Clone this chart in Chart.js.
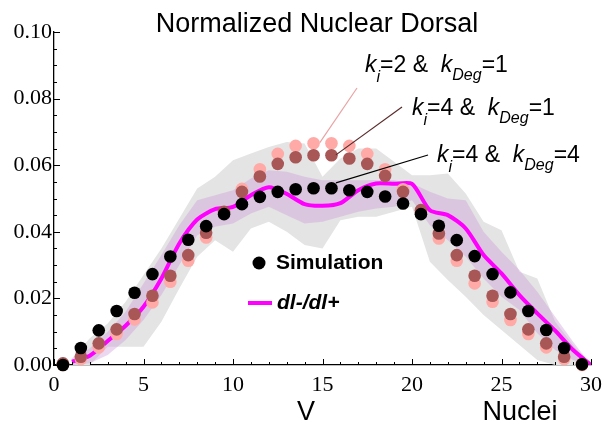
<!DOCTYPE html>
<html>
<head>
<meta charset="utf-8">
<script src="https://cdn.jsdelivr.net/npm/chart.js@4.4.1/dist/chart.umd.min.js"></script>
<style>
  html, body { margin: 0; padding: 0; background: #fff; }
  #wrap { width: 609px; height: 425px; }
</style>
</head>
<body>
<div id="wrap"><canvas id="chart" width="609" height="425"></canvas></div>
<script>
// posições dos núcleos (pontos simulados) e da curva experimental
const nucleusPos = [0.5, 1.5, 2.5, 3.5, 4.5, 5.5, 6.5, 7.5, 8.5, 9.5, 10.5, 11.5, 12.5, 13.5, 14.5,
                    15.5, 16.5, 17.5, 18.5, 19.5, 20.5, 21.5, 22.5, 23.5, 24.5, 25.5, 26.5, 27.5, 28.5, 29.5];
const curvePos = [1, 2, 3, 4, 5, 6, 7, 8, 9, 10, 11, 12, 13, 14, 15,
                  16, 17, 18, 19, 20, 21, 22, 23, 24, 25, 26, 27, 28, 29, 30];

// ki=4 & kDeg=4 (Simulation)
const simKi4Kdeg4 = [0.0000, 0.0051, 0.0104, 0.0162, 0.0217, 0.0273, 0.0326, 0.0376, 0.0417, 0.0453,
                     0.0483, 0.0505, 0.0520, 0.0528, 0.0531, 0.0531, 0.0525, 0.0520, 0.0506, 0.0485,
                     0.0453, 0.0418, 0.0375, 0.0327, 0.0273, 0.0218, 0.0162, 0.0105, 0.0051, 0.0002];
// ki=4 & kDeg=1
const simKi4Kdeg1 = [0.0005, 0.0025, 0.0065, 0.0107, 0.0153, 0.0208, 0.0268, 0.0330, 0.0397, 0.0460,
                     0.0520, 0.0566, 0.0604, 0.0624, 0.0630, 0.0630, 0.0620, 0.0604, 0.0568, 0.0520,
                     0.0465, 0.0395, 0.0330, 0.0268, 0.0208, 0.0153, 0.0107, 0.0065, 0.0025, 0.0003];
// ki=2 & kDeg=1
const simKi2Kdeg1 = [0.0000, 0.0018, 0.0053, 0.0093, 0.0137, 0.0188, 0.0250, 0.0313, 0.0383, 0.0455,
                     0.0529, 0.0588, 0.0634, 0.0658, 0.0666, 0.0666, 0.0658, 0.0634, 0.0588, 0.0528,
                     0.0458, 0.0380, 0.0313, 0.0245, 0.0190, 0.0135, 0.0093, 0.0053, 0.0018, 0.0000];

// dl-/dl+ (média e faixas)
const dlRatio = [0.0010, 0.0028, 0.0072, 0.0118, 0.0175, 0.0260, 0.0365, 0.0437, 0.0468, 0.0475,
                 0.0510, 0.0534, 0.0514, 0.0483, 0.0478, 0.0486, 0.0525, 0.0545, 0.0544, 0.0544,
                 0.0465, 0.0450, 0.0410, 0.0330, 0.0275, 0.0210, 0.0155, 0.0103, 0.0045, 0.0000];
const innerHi = [0.0015, 0.0050, 0.0100, 0.0160, 0.0245, 0.0330, 0.0420, 0.0495, 0.0510, 0.0525,
                 0.0560, 0.0585, 0.0580, 0.0565, 0.0555, 0.0555, 0.0555, 0.0555, 0.0555, 0.0545,
                 0.0520, 0.0500, 0.0495, 0.0400, 0.0340, 0.0285, 0.0220, 0.0145, 0.0070, 0.0000];
const innerLo = [0.0000, 0.0005, 0.0030, 0.0075, 0.0135, 0.0210, 0.0300, 0.0390, 0.0415, 0.0425,
                 0.0455, 0.0475, 0.0450, 0.0425, 0.0430, 0.0445, 0.0460, 0.0470, 0.0475, 0.0495,
                 0.0420, 0.0375, 0.0325, 0.0260, 0.0205, 0.0165, 0.0095, 0.0045, 0.0015, 0.0000];
const outerHi = [0.0020, 0.0080, 0.0125, 0.0190, 0.0270, 0.0350, 0.0440, 0.0530, 0.0565, 0.0615,
                 0.0635, 0.0655, 0.0670, 0.0665, 0.0565, 0.0620, 0.0650, 0.0650, 0.0610, 0.0570,
                 0.0570, 0.0575, 0.0515, 0.0430, 0.0405, 0.0280, 0.0260, 0.0130, 0.0060, 0.0000];
const outerLo = [0.0000, 0.0000, 0.0055, 0.0055, 0.0055, 0.0130, 0.0230, 0.0325, 0.0375, 0.0340,
                 0.0410, 0.0430, 0.0400, 0.0360, 0.0350, 0.0435, 0.0445, 0.0445, 0.0460, 0.0475,
                 0.0310, 0.0255, 0.0205, 0.0150, 0.0105, 0.0060, 0.0015, 0.0000, 0.0000, 0.0000];

// ticks
const xTickValues = [0, 5, 10, 15, 20, 25, 30];
const yTickValues = [0, 0.02, 0.04, 0.06, 0.08, 0.10];

const SANS = "'Liberation Sans', Arial, sans-serif";
const SERIF = "'Liberation Serif', 'Times New Roman', serif";

function pts(xs, ys) {
    return xs.map((x, i) => ({ x: x, y: ys[i] }));
}

function band(ys, color, fill, order) {
    return {
        data: pts(curvePos, ys),
        showLine: true,
        borderWidth: 0,
        borderColor: 'rgba(0,0,0,0)',
        backgroundColor: color,
        pointRadius: 0,
        fill: fill,
        order: order
    };
}

function dots(ys, color, order) {
    return {
        data: pts(nucleusPos, ys),
        showLine: false,
        pointRadius: 6.3,
        pointBorderWidth: 0,
        backgroundColor: color,
        borderColor: color,
        clip: 10,
        order: order
    };
}

// anotações  k_i / k_Deg
const annotations = [
    { ki: '2', kdeg: '1', tx: 365, ty: 72, from: [357, 88], to: [14.85, 0.0668], color: '#e9a3a3' },
    { ki: '4', kdeg: '1', tx: 412, ty: 115, from: [402, 107], to: [15.75, 0.0631], color: '#5a2a2a' },
    { ki: '4', kdeg: '4', tx: 437, ty: 162, from: [428, 155], to: [15.75, 0.0547], color: '#000000' }
];

function drawKLabel(ctx, x, y, ki, kdeg) {
    const parts = [
        { t: 'k', f: 'italic 23px ' + SANS, dy: 0 },
        { t: 'i', f: 'italic 16px ' + SANS, dy: 10 },
        { t: '=' + ki + ' &  ', f: '23px ' + SANS, dy: 0 },
        { t: 'k', f: 'italic 23px ' + SANS, dy: 0 },
        { t: 'Deg', f: 'italic 16px ' + SANS, dy: 8 },
        { t: '=' + kdeg, f: '23px ' + SANS, dy: 0 }
    ];
    ctx.textAlign = 'left';
    ctx.textBaseline = 'alphabetic';
    ctx.fillStyle = '#000';
    parts.forEach(p => {
        ctx.font = p.f;
        ctx.fillText(p.t, x, y + p.dy);
        x += ctx.measureText(p.t).width;
    });
}

const overlayPlugin = {
    id: 'overlay',
    afterDatasetsDraw(chart) {
        const ctx = chart.ctx;
        const xs = chart.scales.x;
        const ys = chart.scales.y;
        const area = chart.chartArea;
        ctx.save();

        // ticks para dentro
        ctx.strokeStyle = '#000';
        ctx.lineWidth = 1;
        for (let v = 0; v <= 30; v++) {
            const px = Math.round(xs.getPixelForValue(v)) + 0.5;
            const len = v % 5 === 0 ? 6 : 3;
            ctx.beginPath();
            ctx.moveTo(px, area.bottom);
            ctx.lineTo(px, area.bottom - len);
            ctx.stroke();
        }
        for (let k = 0; k <= 20; k++) {
            const v = k * 0.005;
            const py = Math.round(ys.getPixelForValue(v)) + 0.5;
            const len = k % 4 === 0 ? 6 : 3;
            ctx.beginPath();
            ctx.moveTo(area.left, py);
            ctx.lineTo(area.left + len, py);
            ctx.stroke();
        }

        // título e rótulos dos eixos
        ctx.fillStyle = '#000';
        ctx.textBaseline = 'alphabetic';
        ctx.textAlign = 'center';
        ctx.font = '27px ' + SANS;
        ctx.fillText('Normalized Nuclear Dorsal', 317, 32);
        ctx.font = '27px ' + SANS;
        ctx.fillText('V', 306, 420);
        ctx.fillText('Nuclei', 520, 420);

        // linhas de chamada
        annotations.forEach(a => {
            ctx.strokeStyle = a.color;
            ctx.lineWidth = 1.2;
            ctx.beginPath();
            ctx.moveTo(a.from[0], a.from[1]);
            ctx.lineTo(xs.getPixelForValue(a.to[0]), ys.getPixelForValue(a.to[1]));
            ctx.stroke();
            drawKLabel(ctx, a.tx, a.ty, a.ki, a.kdeg);
        });

        // legenda
        ctx.fillStyle = '#000';
        ctx.beginPath();
        ctx.arc(259, 263, 6.5, 0, Math.PI * 2);
        ctx.fill();
        ctx.textAlign = 'left';
        ctx.textBaseline = 'middle';
        ctx.font = 'bold 21px ' + SANS;
        ctx.fillText('Simulation', 276, 263);

        ctx.strokeStyle = '#ff00ff';
        ctx.lineWidth = 4;
        ctx.beginPath();
        ctx.moveTo(248, 303);
        ctx.lineTo(272, 303);
        ctx.stroke();
        ctx.font = 'italic bold 21px ' + SANS;
        ctx.fillText('dl-/dl+', 277, 303);

        ctx.restore();
    }
};

const ctx = document.getElementById('chart').getContext('2d');
const chart = new Chart(ctx, {
    type: 'scatter',
    data: {
        datasets: [
            dots(simKi4Kdeg4, '#000000', 1),
            dots(simKi4Kdeg1, '#a85656', 2),
            dots(simKi2Kdeg1, '#ffaaa6', 3),
            {
                data: pts(curvePos, dlRatio),
                showLine: true,
                borderColor: '#ff00ff',
                borderWidth: 4,
                pointRadius: 0,
                tension: 0.25,
                fill: false,
                order: 4
            },
            band(innerHi, 'rgba(205,150,215,0.38)', '+1', 5),
            band(innerLo, 'rgba(0,0,0,0)', false, 5),
            band(outerHi, '#e4e4e4', '+1', 6),
            band(outerLo, 'rgba(0,0,0,0)', false, 6)
        ]
    },
    options: {
        responsive: false,
        animation: false,
        events: [],
        layout: { padding: { top: 32, right: 14, left: 0, bottom: 0 } },
        plugins: {
            legend: { display: false },
            title: { display: false },
            tooltip: { enabled: false }
        },
        scales: {
            x: {
                type: 'linear',
                min: 0,
                max: 30,
                grid: { display: false, drawTicks: false },
                border: { display: true, color: '#000', width: 1.3 },
                ticks: {
                    color: '#000',
                    padding: 7,
                    maxRotation: 0,
                    font: { family: SERIF, size: 22 }
                },
                afterBuildTicks: scale => { scale.ticks = xTickValues.map(v => ({ value: v })); },
                afterFit: scale => { scale.height = 60; }
            },
            y: {
                type: 'linear',
                min: 0,
                max: 0.1,
                grid: { display: false, drawTicks: false },
                border: { display: true, color: '#000', width: 1.3 },
                ticks: {
                    color: '#000',
                    padding: 2,
                    font: { family: SERIF, size: 22 },
                    callback: v => v.toFixed(2)
                },
                afterBuildTicks: scale => { scale.ticks = yTickValues.map(v => ({ value: v })); },
                afterFit: scale => { scale.width = 54; }
            }
        }
    },
    plugins: [overlayPlugin]
});
</script>
</body>
</html>
